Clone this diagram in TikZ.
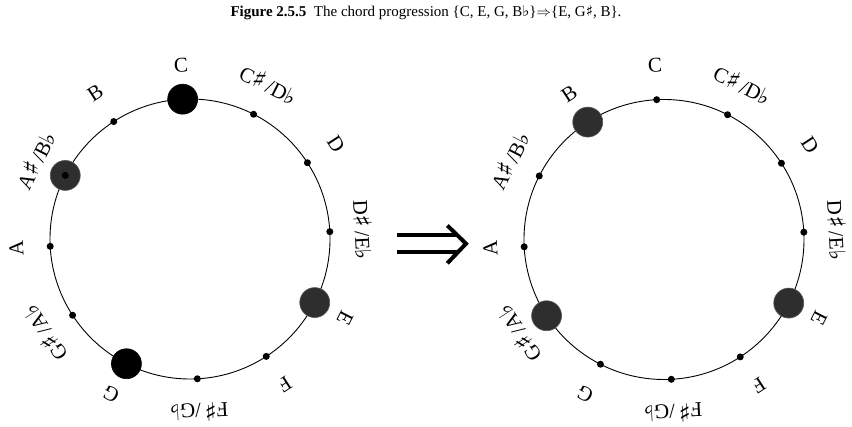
\documentclass[tikz,border=0pt]{standalone}
\usepackage{fontspec}
\setmainfont{Liberation Serif}
\newfontfamily\symfont{DejaVu Sans}
\definecolor{dotgray}{HTML}{2E2E2E}
\newcommand{\mysharp}{{\symfont\fontsize{25}{25}\selectfont ♯}}
\newcommand{\myflat}{{\symfont\fontsize{22}{22}\selectfont ♭}}
\newcommand{\myslash}{\,/}
\begin{document}
\begin{tikzpicture}[x=1pt,y=1pt,
  ring/.style={circle,draw=black,line width=0.9pt,minimum size=280pt,inner sep=0pt},
  smalldot/.style={circle,fill=black,inner sep=0pt,minimum size=7pt},
  bigdot/.style={circle,fill=dotgray,draw=black!65,line width=0.6pt,inner sep=0pt,minimum size=30pt},
  blackdot/.style={bigdot,fill=black,draw=black},
  lbl/.style={font=\fontsize{21}{21}\selectfont,inner sep=0pt},
  arrowline/.style={line width=4pt}]
\useasboundingbox (0,0) rectangle (852,427);
% title
\node[font=\fontsize{15}{15}\selectfont,inner sep=0pt] (title) at (426,414)
  {\textbf{Figure 2.5.5}\enspace The chord progression \{C, E, G, B{\symfont ♭}\}$\Rightarrow$\{E, G{\symfont ♯}, B\}.};
% rings
\coordinate (cL) at (190,188);
\coordinate (cR) at (664,187.5);
\node[ring] (ringL) at (cL) {};
\node[ring] (ringR) at (cR) {};
\foreach \i/\t in {0/C, 1/{C\mysharp\myslash D\myflat}, 2/D, 3/{D\mysharp\myslash E\myflat}, 4/E, 5/F,
                   6/{F\mysharp\myslash G\myflat}, 7/G, 8/{G\mysharp\myslash A\myflat}, 9/A, 10/{A\mysharp\myslash B\myflat}, 11/B} {
  \pgfmathsetmacro\ang{93-30*\i}
  \node[smalldot] (L\i) at ([shift={(\ang:140pt)}]cL) {};
  \node[smalldot] (R\i) at ([shift={(\ang:140pt)}]cR) {};
  \node[lbl,rotate=\ang-90] (LT\i) at ([shift={(\ang:174pt)}]cL) {\t};
  \node[lbl,rotate=\ang-90] (RT\i) at ([shift={(\ang:174pt)}]cR) {\t};
}
% chord tones, left
\node[blackdot] (LC) at (L0) {};
\node[bigdot] (LE) at (L4) {};
\node[blackdot] (LG) at (L7) {};
\node[bigdot] (LBb) at (L10) {};
\node[smalldot] (LBbc) at (L10) {};
% chord tones, right
\node[bigdot] (RE) at (R4) {};
\node[bigdot] (RGs) at (R8) {};
\node[bigdot] (RB) at (R11) {};
% implies arrow
\coordinate (a1) at (397,192);
\coordinate (a2) at (458,192);
\coordinate (b1) at (397,174.7);
\coordinate (b2) at (458,174.7);
\coordinate (h1) at (447.3,201.5);
\coordinate (h2) at (466,183.3);
\coordinate (h3) at (447.3,163.7);
\draw[arrowline] (a1) -- (a2);
\draw[arrowline] (b1) -- (b2);
\draw[arrowline,line join=miter] (h1) -- (h2) -- (h3);
\end{tikzpicture}
\end{document}
